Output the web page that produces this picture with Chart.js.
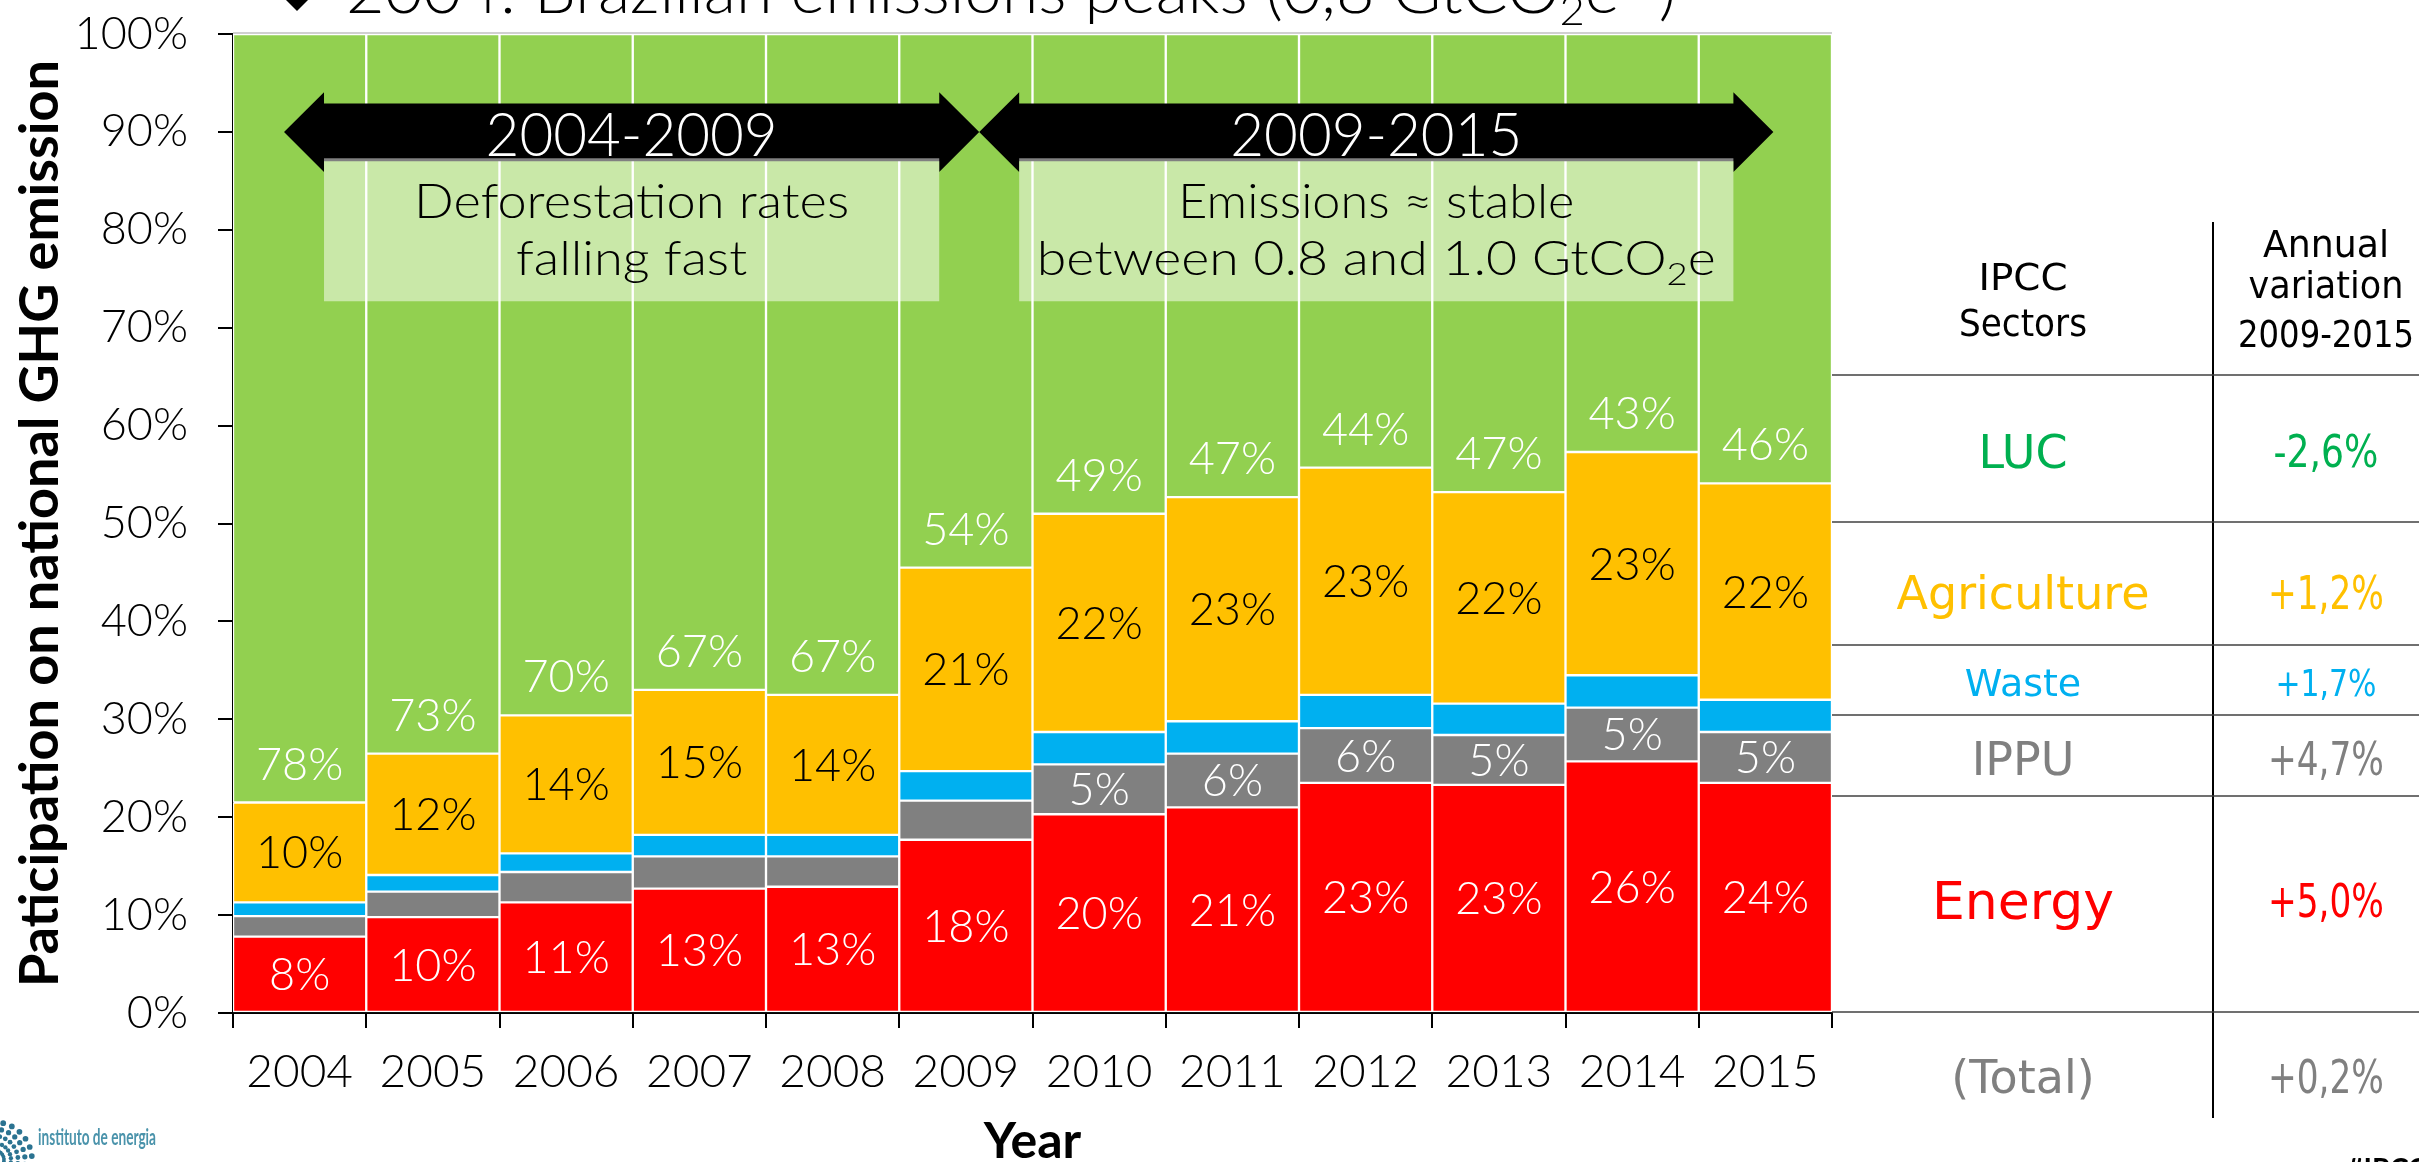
<!DOCTYPE html>
<html><head><meta charset="utf-8">
<script src="https://cdn.jsdelivr.net/npm/chart.js@4.4.1/dist/chart.umd.min.js"></script>
<style>html,body{margin:0;padding:0;background:#fff;overflow:hidden}#wrap{width:2419px;height:1162px;position:relative}canvas{display:block}</style>
</head><body><div id="wrap"><canvas id="c" width="2419" height="1162"></canvas></div>
<script>
// ---------- data ----------
const years = ['2004','2005','2006','2007','2008','2009','2010','2011','2012','2013','2014','2015'];
const energy      = [7.8, 9.8, 11.3, 12.7, 12.9, 17.7, 20.3, 21.0, 23.5, 23.3, 25.7, 23.5];
const ippu        = [2.1, 2.6, 3.1, 3.3, 3.1, 4.0, 5.1, 5.5, 5.6, 5.1, 5.5, 5.2];
const waste       = [1.4, 1.7, 1.9, 2.2, 2.2, 3.0, 3.3, 3.3, 3.4, 3.2, 3.3, 3.3];
const agriculture = [10.2, 12.4, 14.1, 14.8, 14.3, 20.8, 22.3, 22.9, 23.2, 21.6, 22.8, 22.1];
const luc         = [78.5, 73.5, 69.6, 67.0, 67.5, 54.5, 49.0, 47.3, 44.3, 46.8, 42.7, 45.9];

const energyLabels = ['8%','10%','11%','13%','13%','18%','20%','21%','23%','23%','26%','24%'];
const ippuLabels   = ['','','','','','','5%','6%','6%','5%','5%','5%'];
const wasteLabels  = ['','','','','','','','','','','',''];
const agriLabels   = ['10%','12%','14%','15%','14%','21%','22%','23%','23%','22%','23%','22%'];
const lucLabels    = ['78%','73%','70%','67%','67%','54%','49%','47%','44%','47%','43%','46%'];

const yTickValues = [0,10,20,30,40,50,60,70,80,90,100];

const sectorNames = ['LUC','Agriculture','Waste','IPPU','Energy','(Total)'];
const variations  = ['-2,6%','+1,2%','+1,7%','+4,7%','+5,0%','+0,2%'];

const periodLabels = ['2004-2009','2009-2015'];
const periodNotes  = [['Deforestation rates','falling fast'],['Emissions \u2248 stable','between 0.8 and 1.0 GtCO|2|e']];

// ---------- styles / layout ----------
const C = {luc:'#92d050', agri:'#ffc000', waste:'#00b0f0', ippu:'#808080', energy:'#ff0000'};
const tableColors = ['#00b050','#ffc000','#00b0f0','#808080','#ff0000','#808080'];
const tableRowY   = [451, 592, 682, 758, 900, 1076];
const tableNameSz = [46, 46, 38, 46, 52, 46];
const tableValSz  = [44, 46, 38, 46, 46, 46];
const tableValW   = [105, 116, 101, 116, 116, 116];
const tableLinesY = [375, 522, 645, 715, 796, 1012];

const spans = [
  {tip:[-0.117, 5.10], body:[0.183, 4.80], w:[435, 231]},
  {tip:[5.10, 11.06], body:[5.40, 10.76], w:[396, 679]}
];

const LF = 'Lato, "Open Sans", sans-serif';
const TF = '"DejaVu Sans", sans-serif';

function fitText(ctx, text, x, y, w) {
  const m = ctx.measureText(text).width;
  ctx.save(); ctx.translate(x, y); ctx.scale(w / m, 1);
  ctx.textAlign = 'center'; ctx.fillText(text, 0, 0); ctx.restore();
}

// rich text: parts = [{t, f, dy}]
function richText(ctx, parts, x, y, targetW, align) {
  let tot = 0;
  parts.forEach(p => { ctx.font = p.f; p.w = ctx.measureText(p.t).width; tot += p.w; });
  const s = targetW ? targetW / tot : 1;
  ctx.save(); ctx.translate(x, y); ctx.scale(s, 1);
  let cx = align === 'center' ? -tot / 2 : 0;
  ctx.textAlign = 'left';
  parts.forEach(p => { ctx.font = p.f; ctx.fillText(p.t, cx, p.dy || 0); cx += p.w; });
  ctx.restore();
}

const decorPlugin = {
  id: 'decor',
  afterDatasetsDraw(chart) {
    const {ctx, chartArea} = chart;
    const xs = chart.scales.x, ys = chart.scales.y;
    const X = v => xs.getPixelForValue(v), Y = v => ys.getPixelForValue(v);
    ctx.save();
    ctx.strokeStyle = '#d0d0d0'; ctx.lineWidth = 2;
    ctx.beginPath(); ctx.moveTo(chartArea.left, chartArea.top - 1); ctx.lineTo(chartArea.right, chartArea.top - 1); ctx.stroke();
    spans.forEach((s, k) => {
      const xl = X(s.tip[0]), xr = X(s.tip[1]), b1 = X(s.body[0]), b2 = X(s.body[1]);
      const yc = Y(90), bt = Y(92.9), bb = Y(87.0), ht = Y(94.05), hb = Y(85.9), boxB = Y(72.7);
      ctx.fillStyle = '#000';
      ctx.beginPath();
      ctx.moveTo(xl, yc); ctx.lineTo(b1, ht); ctx.lineTo(b1, bt); ctx.lineTo(b2, bt); ctx.lineTo(b2, ht);
      ctx.lineTo(xr, yc); ctx.lineTo(b2, hb); ctx.lineTo(b2, bb); ctx.lineTo(b1, bb); ctx.lineTo(b1, hb);
      ctx.closePath(); ctx.fill();
      ctx.fillStyle = 'rgba(255,255,255,0.5)';
      ctx.fillRect(b1, bb - 3, b2 - b1, boxB - bb + 3);
      const cx = (b1 + b2) / 2;
      ctx.fillStyle = '#fff'; ctx.font = '300 62px ' + LF; ctx.textAlign = 'center'; ctx.textBaseline = 'alphabetic';
      fitText(ctx, periodLabels[k], cx, yc + 24, 292);
      ctx.fillStyle = '#000';
      periodNotes[k].forEach((line, li) => {
        const by = yc + 86 + li * 57;
        if (line.indexOf('|') >= 0) {
          const p = line.split('|');
          richText(ctx, [
            {t: p[0], f: '300 47px ' + LF},
            {t: p[1], f: '300 32px ' + LF, dy: 10},
            {t: p[2], f: '300 47px ' + LF}
          ], cx, by, s.w[li], 'center');
        } else {
          ctx.font = '300 47px ' + LF;
          fitText(ctx, line, cx, by, s.w[li]);
        }
      });
    });
    ctx.restore();
  }
};

const labelPlugin = {
  id: 'segLabels',
  afterDatasetsDraw(chart) {
    const ctx = chart.ctx;
    ctx.save();
    chart.data.datasets.forEach((ds, di) => {
      const meta = chart.getDatasetMeta(di);
      meta.data.forEach((el, i) => {
        const txt = ds.segLabels[i];
        if (!txt) return;
        const p = el.getProps(['x', 'y', 'base'], true);
        const cy = ds.labelAtBase ? p.base - 39 : (p.y + p.base) / 2;
        ctx.fillStyle = ds.labelColor;
        ctx.font = '300 45px ' + LF;
        ctx.textAlign = 'center'; ctx.textBaseline = 'alphabetic';
        ctx.fillText(txt, p.x, cy + 16);
      });
    });
    ctx.restore();
  }
};

const pagePlugin = {
  id: 'page',
  afterDraw(chart) {
    const ctx = chart.ctx;
    ctx.save();
    // title (cut off at top)
    ctx.fillStyle = '#000';
    ctx.beginPath(); ctx.moveTo(284, -2); ctx.lineTo(297, 11); ctx.lineTo(310, -2); ctx.lineTo(297, -15); ctx.closePath(); ctx.fill();
    ctx.textBaseline = 'alphabetic';
    richText(ctx, [
      {t: '2004: Brazilian emissions peaks (0,8 GtCO', f: '300 64px ' + LF},
      {t: '2', f: '300 42px ' + LF, dy: 12},
      {t: 'e', f: '300 64px ' + LF},
      {t: '-1', f: '300 40px ' + LF, dy: -26},
      {t: ')', f: '300 64px ' + LF}
    ], 346, 13, 1330, 'left');

    // table
    const x0 = 1832, x1 = 2419, xv = 2213, c1 = 2023, c2 = 2326;
    ctx.strokeStyle = '#000'; ctx.lineWidth = 2;
    ctx.beginPath(); ctx.moveTo(xv, 222); ctx.lineTo(xv, 1118); ctx.stroke();
    ctx.strokeStyle = '#404040'; ctx.lineWidth = 1.6;
    tableLinesY.forEach(y => { ctx.beginPath(); ctx.moveTo(x0, y); ctx.lineTo(x1, y); ctx.stroke(); });
    ctx.textAlign = 'center'; ctx.textBaseline = 'alphabetic';
    ctx.fillStyle = '#000';
    ctx.font = '38px ' + TF;
    fitText(ctx, 'IPCC', c1, 276 + 14, 89);
    fitText(ctx, 'Sectors', c1, 322 + 14, 128);
    fitText(ctx, 'Annual', c2, 243 + 14, 126);
    fitText(ctx, 'variation', c2, 287 + 11, 155);
    fitText(ctx, '2009-2015', c2, 333 + 14, 176);
    sectorNames.forEach((n, i) => {
      ctx.fillStyle = tableColors[i];
      ctx.font = tableNameSz[i] + 'px ' + TF;
      ctx.fillText(n, c1, tableRowY[i] + tableNameSz[i] * 0.36);
      ctx.font = tableValSz[i] + 'px ' + TF;
      fitText(ctx, variations[i], c2, tableRowY[i] + tableValSz[i] * 0.36, tableValW[i]);
    });

    // logo (cut off at bottom)
    ctx.fillStyle = '#2b7391';
    for (let r = 10; r <= 40; r += 7) {
      for (let a = -90; a <= 90; a += 14) {
        const rad = a * Math.PI / 180;
        const px = -6 + r * Math.cos(rad), py = 1160 + r * Math.sin(rad);
        ctx.beginPath(); ctx.arc(px, py, 1.6 + r / 30, 0, Math.PI * 2); ctx.fill();
      }
    }
    ctx.fillStyle = '#4a93ab';
    richText(ctx, [{t: 'instituto de energia', f: 'bold 22px ' + LF}], 38, 1145, 118, 'left');
    ctx.fillStyle = '#000';
    richText(ctx, [{t: '#IPCC', f: 'bold 30px ' + LF}], 2347, 1180, 80, 'left');
    ctx.restore();
  }
};

function ds(label, data, color, labels, labelColor, atBase) {
  return {
    label, data, backgroundColor: color, borderColor: '#ffffff',
    borderWidth: 1.5, borderSkipped: false,
    barPercentage: 1, categoryPercentage: 1,
    segLabels: labels, labelColor, labelAtBase: !!atBase
  };
}

new Chart(document.getElementById('c'), {
  type: 'bar',
  data: {
    labels: years,
    datasets: [
      ds('Energy', energy, C.energy, energyLabels, '#ffffff'),
      ds('IPPU', ippu, C.ippu, ippuLabels, '#ffffff'),
      ds('Waste', waste, C.waste, wasteLabels, '#ffffff'),
      ds('Agriculture', agriculture, C.agri, agriLabels, '#000000'),
      ds('LUC', luc, C.luc, lucLabels, '#ffffff', true)
    ]
  },
  options: {
    responsive: false, maintainAspectRatio: false, animation: false, devicePixelRatio: 1,
    layout: {padding: {left: 0, top: 34, right: 587, bottom: 0}},
    plugins: {legend: {display: false}, tooltip: {enabled: false}},
    scales: {
      x: {
        stacked: true, z: 1,
        grid: {drawOnChartArea: false, drawTicks: true, tickLength: 15, color: '#000', lineWidth: 2, offset: true},
        border: {display: true, color: '#000', width: 2},
        ticks: {font: {family: LF, size: 46, weight: '300'}, color: '#000', padding: 17, maxRotation: 0, autoSkip: false},
        title: {display: true, text: 'Year', color: '#000', font: {family: LF, size: 50, weight: 'bold', lineHeight: 0.8}, padding: {top: 0, bottom: 0}},
        afterFit(s) { s.height = 149; s.paddingLeft = 0; s.paddingRight = 0; }
      },
      y: {
        stacked: true, min: 0, max: 100, z: 1,
        afterBuildTicks(s) { s.ticks = yTickValues.map(v => ({value: v})); },
        grid: {drawOnChartArea: false, drawTicks: true, tickLength: 15, color: '#000', lineWidth: 2},
        border: {display: true, color: '#000', width: 2},
        ticks: {font: {family: LF, size: 45, weight: '300'}, color: '#000', padding: 30, callback: v => v + '%'},
        title: {display: true, text: 'Paticipation on national GHG emission', color: '#000', font: {family: LF, size: 54, weight: 'bold', lineHeight: 1.2}, padding: {top: 8, bottom: 0}},
        afterFit(s) { s.width = 233; s.paddingTop = 0; s.paddingBottom = 0; }
      }
    }
  },
  plugins: [decorPlugin, labelPlugin, pagePlugin]
});
</script>
</body></html>
